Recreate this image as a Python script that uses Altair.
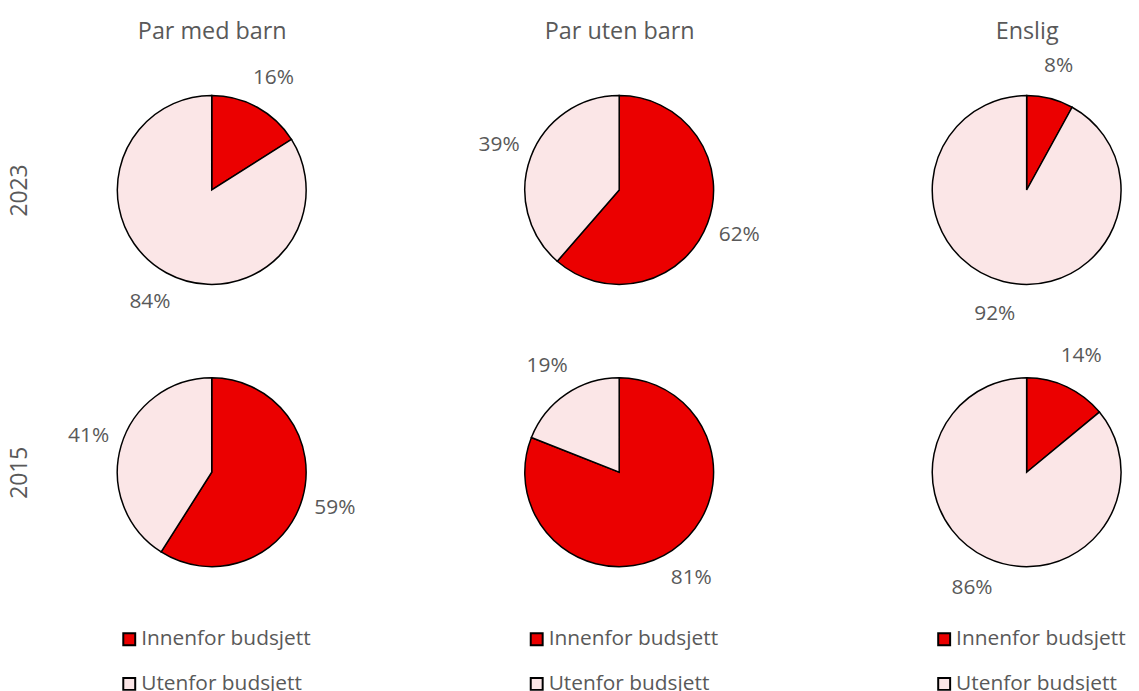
import math
import altair as alt
import pandas as pd

groups = ["Par med barn", "Par uten barn", "Enslig"]
years = ["2023", "2015"]
categories = ["Innenfor budsjett", "Utenfor budsjett"]
innenfor_2023 = [16, 62, 8]
utenfor_2023 = [84, 39, 92]
innenfor_2015 = [59, 81, 14]
utenfor_2015 = [41, 19, 86]
colors = ["#EB0000", "#FBE6E7"]

TEXT = "#595959"
FONT = "Open Sans"

rows = []
for year, inn, ut in [("2023", innenfor_2023, utenfor_2023), ("2015", innenfor_2015, utenfor_2015)]:
    for g, a, b in zip(groups, inn, ut):
        rows.append(dict(group=g, year=year, category=categories[0], order=0, value=a, label=f"{a}%"))
        rows.append(dict(group=g, year=year, category=categories[1], order=1, value=b, label=f"{b}%"))
pie_df = pd.DataFrame(rows)
leg_df = pd.DataFrame([dict(group=g, category=c) for g in groups for c in categories])

x_scale = alt.Scale(type="point", domain=groups, range=[175, 995], padding=0)
x_axis = alt.Axis(orient="top", title=None, domain=False, ticks=False, tickSize=0, grid=False,
                  labelAngle=0, labelFontSize=23.5, labelColor=TEXT, labelFont=FONT, labelPadding=6)
X = alt.X("group:N", scale=x_scale, axis=x_axis)
Y = alt.Y(
    "year:N", scale=alt.Scale(type="point", domain=years, range=[141, 425], padding=0),
    axis=alt.Axis(orient="left", title=None, domain=False, ticks=False, tickSize=0, grid=False,
                  labelAngle=270, labelAlign="center", labelBaseline="bottom",
                  labelFontSize=23, labelColor=TEXT, labelFont=FONT, labelPadding=6),
)
theta_scale = alt.Scale(domain=[0, 1], range=[0, 2 * math.pi])
color_scale = alt.Scale(domain=categories, range=colors)

base = (
    alt.Chart(pie_df)
    .transform_stack(stack="value", groupby=["group", "year"], as_=["start", "end"],
                     offset="normalize", sort=[alt.SortField("order", "ascending")])
    .transform_calculate(mid="(datum.start + datum.end) / 2")
)

arcs = base.mark_arc(radius=95, stroke="black", strokeWidth=1.5).encode(
    x=X, y=Y,
    theta=alt.Theta("start:Q", stack=False, scale=theta_scale),
    theta2="end:Q",
    color=alt.Color("category:N", scale=color_scale, legend=None),
)
labels = base.mark_text(radius=129, fontSize=21, font=FONT, color=TEXT,
                        align="center", baseline="middle").encode(
    x=X, y=Y,
    theta=alt.Theta("mid:Q", stack=False, scale=theta_scale),
    text="label:N",
)

leg_y = alt.Y("category:N", scale=alt.Scale(type="point", domain=categories, range=[593, 638], padding=0), axis=None)

squares = alt.Chart(leg_df).mark_square(size=144, xOffset=-83, stroke="black", strokeWidth=2,
                                        opacity=1, filled=True).encode(
    x=X, y=leg_y,
    color=alt.Color("category:N", scale=color_scale, legend=None),
)
leg_text = alt.Chart(leg_df).mark_text(align="left", baseline="middle", dx=-71, fontSize=21,
                                       font=FONT, color=TEXT).encode(
    x=X, y=leg_y, text="category:N",
)

chart = (
    alt.layer(alt.layer(arcs, labels), alt.layer(squares, leg_text))
    .resolve_scale(y="independent")
    .properties(width=1100, height=643,
                padding={"left": 30, "top": 40, "right": 0, "bottom": 0},
                autosize=alt.AutoSizeParams(type="none"))
    .configure_view(stroke=None)
)

chart.save("out.html", embed_options={"renderer": "svg", "actions": False})
